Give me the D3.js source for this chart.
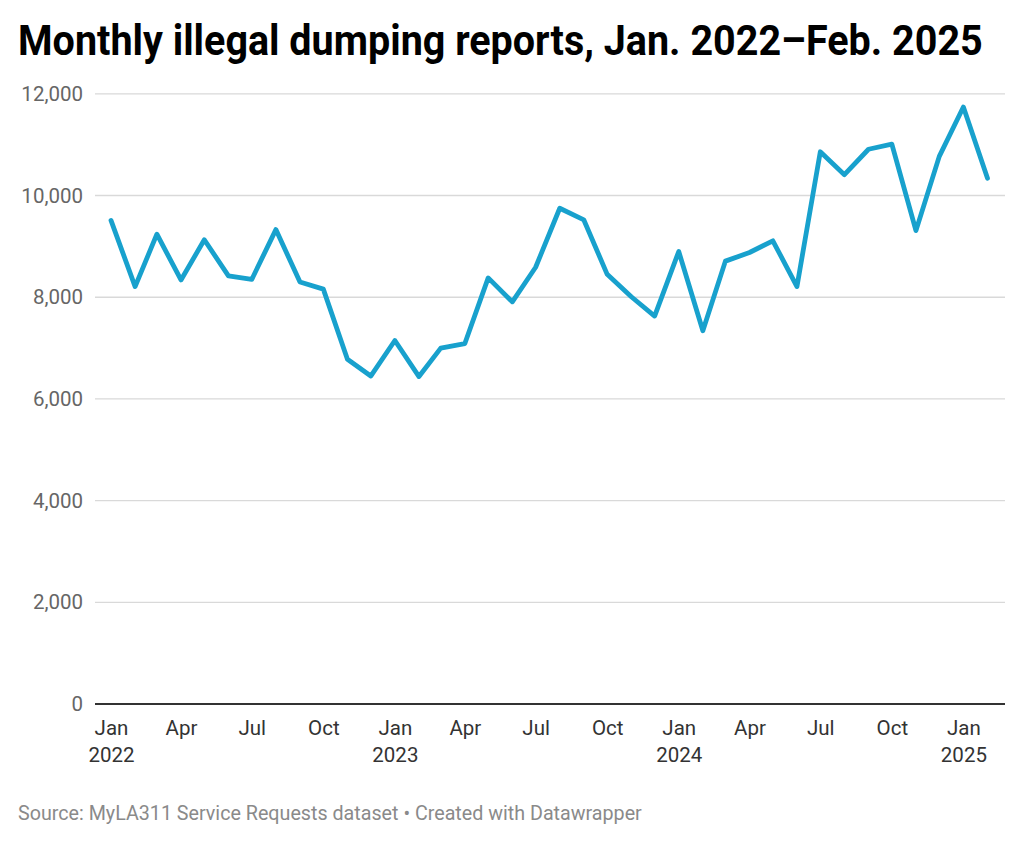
<!DOCTYPE html>
<html>
<head>
<meta charset="utf-8">
<script src="https://cdn.jsdelivr.net/npm/d3@7"></script>
<style>
  html, body { margin: 0; padding: 0; background: #fff; }
  svg { display: block; font-family: Roboto, "Noto Sans", sans-serif; }
</style>
</head>
<body>
<svg id="chart" width="1024" height="844"></svg>
<script>
// ---- Data ----
const months = [
  "2022-01","2022-02","2022-03","2022-04","2022-05","2022-06","2022-07","2022-08","2022-09","2022-10","2022-11","2022-12",
  "2023-01","2023-02","2023-03","2023-04","2023-05","2023-06","2023-07","2023-08","2023-09","2023-10","2023-11","2023-12",
  "2024-01","2024-02","2024-03","2024-04","2024-05","2024-06","2024-07","2024-08","2024-09","2024-10","2024-11","2024-12",
  "2025-01","2025-02"
];
const reports = [
  9500, 8200, 9230, 8330, 9120, 8410, 8340, 9320, 8290, 8150, 6770, 6440,
  7140, 6430, 6990, 7080, 8370, 7900, 8580, 9740, 9510, 8440, 8000, 7620,
  8890, 7330, 8700, 8870, 9100, 8200, 10850, 10400, 10900, 11000, 9300, 10760,
  11730, 10330
];
const yTicks = [0, 2000, 4000, 6000, 8000, 10000, 12000];
const xTickMonths = ["2022-01","2022-04","2022-07","2022-10","2023-01","2023-04","2023-07","2023-10",
                     "2024-01","2024-04","2024-07","2024-10","2025-01"];
const monthNames = ["Jan","Feb","Mar","Apr","May","Jun","Jul","Aug","Sep","Oct","Nov","Dec"];
const titleText = "Monthly illegal dumping reports, Jan. 2022\u2013Feb. 2025";
const sourceText = "Source: MyLA311 Service Requests dataset \u2022 Created with Datawrapper";

// ---- Layout ----
const svg = d3.select("#chart");
const parse = d3.timeParse("%Y-%m");
const data = months.map((m, i) => ({ date: parse(m), value: reports[i] }));

const plotLeft = 95, plotRight = 1005, plotTop = 93.3, plotBottom = 703.6;
const x = d3.scaleTime()
  .domain(d3.extent(data, d => d.date))
  .range([111, 987.5]);
const y = d3.scaleLinear().domain([0, 12000]).range([plotBottom, plotTop]);

// Title (condensed via horizontal scale)
const titleG = svg.append("g").attr("transform", "translate(18,55)");
const title = titleG.append("text")
  .attr("x", 0).attr("y", 0)
  .attr("font-size", 42).attr("font-weight", 700)
  .attr("fill", "#000")
  .text(titleText);
const tw = title.node().getComputedTextLength();
const sx = tw > 0 ? Math.min(1, 965 / tw) : 1;
titleG.attr("transform", `translate(18,55) scale(${sx},1)`);

// Gridlines + y labels
const yAxis = d3.axisLeft(y).tickValues(yTicks)
  .tickSize(-(plotRight - plotLeft))
  .tickFormat(d3.format(","));
const gy = svg.append("g").attr("transform", `translate(${plotLeft},0)`).call(yAxis);
gy.select(".domain").remove();
gy.selectAll(".tick line")
  .attr("stroke", d => d === 0 ? "#333" : "#d9d9d9")
  .attr("stroke-width", d => d === 0 ? 2 : 1.3);
gy.selectAll(".tick text")
  .attr("x", -12).attr("dy", "0.34em")
  .attr("font-size", 20.5).attr("fill", "#666")
  .attr("font-family", "Roboto, sans-serif");

// X axis labels
const xAxis = d3.axisBottom(x)
  .tickValues(xTickMonths.map(parse))
  .tickSize(0)
  .tickFormat(d => monthNames[d.getMonth()]);
const gx = svg.append("g").attr("transform", `translate(0,${plotBottom})`).call(xAxis);
gx.select(".domain").remove();
gx.selectAll(".tick text")
  .attr("y", 0).attr("dy", 0)
  .attr("font-size", 20.5).attr("fill", "#333")
  .attr("font-family", "Roboto, sans-serif")
  .each(function(d) {
    const t = d3.select(this);
    t.text(null);
    t.append("tspan").attr("x", 0).attr("y", 31).text(monthNames[d.getMonth()]);
    if (d.getMonth() === 0) {
      t.append("tspan").attr("x", 0).attr("y", 58).text(d.getFullYear());
    }
  });

// Line
const line = d3.line().x(d => x(d.date)).y(d => y(d.value));
svg.append("path")
  .datum(data)
  .attr("fill", "none")
  .attr("stroke", "#18a1cd")
  .attr("stroke-width", 4.8)
  .attr("stroke-linejoin", "round")
  .attr("stroke-linecap", "round")
  .attr("d", line);

// Source
svg.append("text")
  .attr("x", 18).attr("y", 820)
  .attr("font-size", 19.7).attr("fill", "#8a8a8a")
  .text(sourceText);
</script>
</body>
</html>
